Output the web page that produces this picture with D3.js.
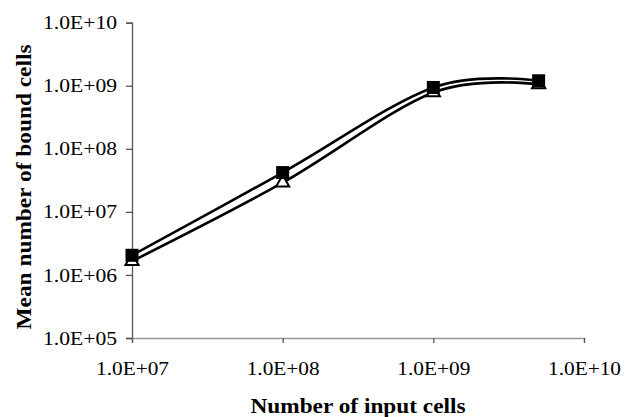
<!DOCTYPE html>
<html><head><meta charset="utf-8">
<script src="https://cdn.jsdelivr.net/npm/d3@7"></script>
<style>
html,body{margin:0;padding:0;background:#fff;}
svg{display:block;}
text{font-family:"Liberation Serif","Times New Roman",serif;fill:#000;}
</style></head>
<body>
<svg id="chart" width="625" height="417"></svg>
<script>
const inputCells = [1e7, 1e8, 1e9, 5e9];
const squareSeries = [2.05e6, 4.2e7, 9.4e8, 1.2e9];
const triangleSeries = [1.65e6, 2.9e7, 7.8e8, 1.05e9];
const xTicks = [1e7, 1e8, 1e9, 1e10];
const yTicks = [1e5, 1e6, 1e7, 1e8, 1e9, 1e10];
const xTitle = "Number of input cells";
const yTitle = "Mean number of bound cells";

(function () {
const svg = d3.select("#chart");
const mLeft = 132, mRight = 584, mTop = 22.7, mBottom = 338;
const x = d3.scaleLog().domain([1e7, 1e10]).range([mLeft, mRight]);
const y = d3.scaleLog().domain([1e5, 1e10]).range([mBottom, mTop]);
const fmt = v => v.toExponential(1).toUpperCase().replace(/E\+(\d)$/, "E+0$1");

// Y axis
const yAxis = svg.append("g").attr("transform", `translate(${mLeft},0)`)
  .call(d3.axisLeft(y).tickValues(yTicks).tickFormat(fmt).tickSize(6).tickPadding(9));
yAxis.select(".domain").attr("stroke", "#555").attr("stroke-width", 1.3);
yAxis.selectAll(".tick line").attr("stroke", "#555").attr("stroke-width", 1.3);
yAxis.selectAll("text").attr("font-size", 19).attr("font-family", "Liberation Serif").attr("dy", "0.32em").attr("textLength", 74).attr("lengthAdjust", "spacingAndGlyphs");

// X axis
const xAxis = svg.append("g").attr("transform", `translate(0,${mBottom})`)
  .call(d3.axisBottom(x).tickValues(xTicks).tickFormat(fmt).tickSize(5).tickPadding(19));
xAxis.select(".domain").attr("stroke", "#999").attr("stroke-width", 1.3);
xAxis.selectAll(".tick line").attr("stroke", "#555").attr("stroke-width", 1.3);
xAxis.selectAll("text").attr("font-size", 19).attr("font-family", "Liberation Serif").attr("textLength", 73).attr("lengthAdjust", "spacingAndGlyphs");

// Lines
const line = d3.line().x(d => x(d[0])).y(d => y(d[1])).curve(d3.curveCatmullRom.alpha(0));
const triData = inputCells.map((c, i) => [c, triangleSeries[i]]);
const sqData = inputCells.map((c, i) => [c, squareSeries[i]]);
svg.append("path").datum(triData).attr("d", line).attr("fill", "none").attr("stroke", "#000").attr("stroke-width", 2.6);
svg.append("path").datum(sqData).attr("d", line).attr("fill", "none").attr("stroke", "#000").attr("stroke-width", 2.6);

// Triangles
const tri = d3.symbol().type(d3.symbolTriangle).size(75);
svg.selectAll(".tri").data(triData).enter().append("path")
  .attr("d", tri).attr("transform", d => `translate(${x(d[0])},${y(d[1])})`)
  .attr("fill", "#fff").attr("stroke", "#000").attr("stroke-width", 2);
// Squares
svg.selectAll(".sq").data(sqData).enter().append("rect")
  .attr("x", d => x(d[0]) - 6.5).attr("y", d => y(d[1]) - 6.5)
  .attr("width", 13).attr("height", 13).attr("fill", "#000");

// Titles
svg.append("text").attr("x", 358).attr("y", 413).attr("text-anchor", "middle")
  .attr("font-size", 21).attr("font-weight", "bold").attr("textLength", 215).attr("lengthAdjust", "spacingAndGlyphs").text(xTitle);
svg.append("text").attr("transform", "translate(31,187) rotate(-90)").attr("text-anchor", "middle")
  .attr("font-size", 22).attr("font-weight", "bold").attr("textLength", 285).attr("lengthAdjust", "spacingAndGlyphs").text(yTitle);
})();
</script>
</body></html>
